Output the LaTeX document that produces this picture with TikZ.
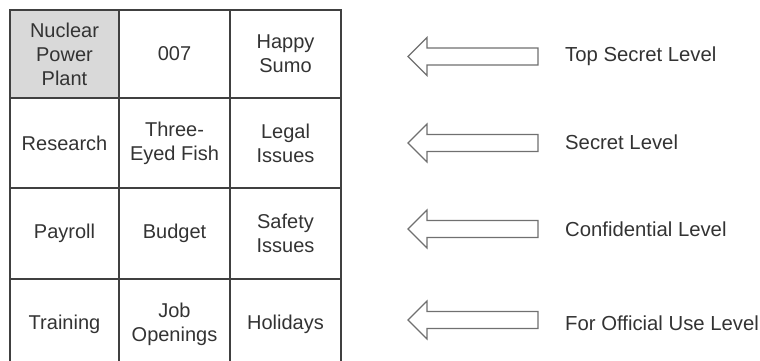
\documentclass[tikz,border=0pt]{standalone}
\usepackage{fontspec}
\setmainfont{Liberation Sans}
\definecolor{gridline}{HTML}{404040}
\definecolor{txt}{HTML}{333333}
\definecolor{shade}{HTML}{D9D9D9}
\definecolor{arrowline}{HTML}{707070}
\tikzset{
  cell/.style={draw=gridline, line width=1.5pt, inner sep=0pt, outer sep=0pt, align=center,
    text=txt, font=\fontsize{20}{24}\selectfont, anchor=north west},
  wa/.style={minimum width=109pt},
  wb/.style={minimum width=111pt},
  shaded/.style={fill=shade},
  lvl/.style={anchor=west, inner sep=0pt, text=txt, font=\fontsize{20.3}{24}\selectfont},
  lvlarrow/.style={draw=arrowline, line width=1.2pt, fill=white, line join=miter}
}
\begin{document}
\begin{tikzpicture}[x=1pt,y=-1pt]
\useasboundingbox (0,0) rectangle (760,360);
\begin{scope}
\clip (0,0) rectangle (760,360);
% grid cells
\node[cell,wa,minimum height=88pt,shaded] (c11) at (10,10) {Nuclear\\Power\\Plant};
\node[cell,wb,minimum height=88pt] (c12) at (119,10) {007};
\node[cell,wb,minimum height=88pt] (c13) at (230,10) {Happy\\Sumo};
\node[cell,wa,minimum height=90pt] (c21) at (10,98) {Research};
\node[cell,wb,minimum height=90pt] (c22) at (119,98) {Three-\\Eyed Fish};
\node[cell,wb,minimum height=90pt] (c23) at (230,98) {Legal\\Issues};
\node[cell,wa,minimum height=91pt] (c31) at (10,188) {Payroll};
\node[cell,wb,minimum height=91pt] (c32) at (119,188) {Budget};
\node[cell,wb,minimum height=91pt] (c33) at (230,188) {Safety\\Issues};
\node[cell,wa,minimum height=90pt] (c41) at (10,279) {Training};
\node[cell,wb,minimum height=90pt] (c42) at (119,279) {Job\\Openings};
\node[cell,wb,minimum height=90pt] (c43) at (230,279) {Holidays};
\end{scope}
% level arrows
\foreach \yc in {56.5,143,229,320}{
  \draw[lvlarrow] (538,\yc-8.5) -- (427,\yc-8.5) -- (427,\yc-19) -- (408,\yc)
    -- (427,\yc+19) -- (427,\yc+8.5) -- (538,\yc+8.5) -- cycle;
}
% level labels
\node[lvl] (l1) at (565,56) {Top Secret Level};
\node[lvl] (l2) at (565,142) {Secret Level};
\node[lvl] (l3) at (565,229) {Confidential Level};
\node[lvl] (l4) at (565,323) {For Official Use Level};
\end{tikzpicture}
\end{document}
